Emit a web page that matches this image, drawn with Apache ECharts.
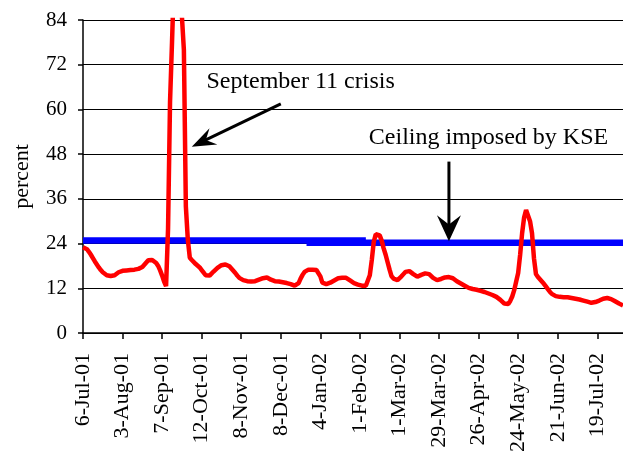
<!DOCTYPE html>
<html>
<head>
<meta charset="utf-8">
<script src="https://cdn.jsdelivr.net/npm/echarts@6/dist/echarts.min.js"></script>
<style>
  html, body { margin: 0; padding: 0; background: #fff; }
  #chart { width: 623px; height: 469px; }
</style>
</head>
<body>
<div id="chart"></div>
<script>
// tick labels, one every 20 trading days
var tickLabels = ['6-Jul-01', '3-Aug-01', '7-Sep-01', '12-Oct-01', '8-Nov-01', '8-Dec-01', '4-Jan-02',
  '1-Feb-02', '1-Mar-02', '29-Mar-02', '26-Apr-02', '24-May-02', '21-Jun-02', '19-Jul-02']
var tickStep = 20

// daily values (percent)
var percentValues = [
  23, 22.9, 22.5, 21.8, 21, 20.1, 19.2, 18.4, 17.6, 16.9,
  16.3, 15.8, 15.5, 15.3, 15.3, 15.3, 15.5, 15.9, 16.3, 16.6,
  16.7, 16.8, 16.8, 16.9, 16.9, 17, 17, 17.1, 17.2, 17.3,
  17.7, 18.3, 18.9, 19.5, 19.8, 19.6, 19.2, 18.8, 18, 16.8,
  15.4, 13.8, 12.6, 28, 62, 78, 95, 110, 108, 95,
  85, 76, 34, 25, 20.2, 19.6, 19.1, 18.5, 18.1, 17.6,
  16.9, 16.2, 15.5, 15.1, 15.4, 15.9, 16.5, 17, 17.5, 17.9,
  18.2, 18.3, 18.4, 18.3, 17.9, 17.3, 16.7, 16.1, 15.4, 14.8,
  14.4, 14.2, 14, 13.9, 13.8, 13.8, 13.8, 13.9, 14.1, 14.3,
  14.5, 14.7, 14.8, 14.9, 14.6, 14.3, 14, 13.9, 13.8, 13.8,
  13.7, 13.6, 13.5, 13.4, 13.3, 13.1, 12.9, 12.7, 12.6, 13.4,
  14.6, 15.6, 16.4, 16.9, 17, 17, 17, 16.9, 16.9, 16.6,
  15.2, 13.5, 13.2, 13.1, 13.3, 13.5, 13.8, 14.1, 14.4, 14.7,
  14.8, 14.8, 14.7, 14.8, 14.5, 14.1, 13.7, 13.4, 13.2, 13,
  12.8, 12.7, 12.6, 12.7, 12.9, 15.5, 19.6, 24.5, 26.5, 26.4,
  26.2, 24.8, 22.7, 21, 19, 17, 15.2, 14.6, 14.3, 14.2,
  14.6, 15.2, 15.8, 16.4, 16.9, 16.6, 16.2, 15.8, 15.4, 15.1,
  15.3, 15.6, 15.8, 16, 16.1, 15.8, 15.3, 14.8, 14.4, 14.2,
  14.3, 14.5, 14.7, 14.9, 15, 15, 14.9, 14.7, 14.3, 13.9,
  13.6, 13.3, 13, 12.7, 12.4, 12.1, 11.9, 11.8, 11.7, 11.6,
  11.4, 11.3, 11.1, 11, 10.8, 10.6, 10.4, 10.2, 10, 9.7,
  9.3, 8.9, 8.4, 7.9, 7.5, 7.8, 8.6, 9.8, 11.5, 13.8,
  16.1, 21, 26.8, 31, 33, 32.6, 30, 26.8, 20, 15.8,
  15, 14.4, 13.8, 13.2, 12.5, 11.8, 11.1, 10.5, 10.1, 9.9,
  9.7, 9.7, 9.7, 9.6, 9.6, 9.6, 9.5, 9.4, 9.4, 9.2,
  9.1, 9, 8.8, 8.7, 8.5, 8.4, 8.3, 8.1, 8.1, 8.3,
  8.5, 8.7, 9, 9.2, 9.3, 9.4, 9.3, 9.1, 8.8, 8.5,
  8.2, 7.9, 7.6, 7.4
]

// ceiling imposed by KSE (two overlapping segments)
var ceilingLevels = [24.8, 24.2]
var ceilingFrom = [0, 113]
var ceilingTo = [143, 273]

var font = "'Liberation Serif', 'Times New Roman', serif"

var categories = percentValues.map(function (v, i) { return String(i) })

function isTick (index) {
  return index % tickStep === 0 && index / tickStep < tickLabels.length
}

var ceilingSeries = ceilingLevels.map(function (level, k) {
  return {
    type: 'line',
    data: percentValues.map(function (v, i) {
      return (i >= ceilingFrom[k] && i <= ceilingTo[k]) ? level : null
    }),
    symbol: 'none',
    lineStyle: { color: '#0000ff', width: 6.5 },
    z: 3,
    animation: false
  }
})

var chart = echarts.init(document.getElementById('chart'))
chart.setOption({
  animation: false,
  grid: { left: 83, top: 20, right: 0, bottom: 136 },
  xAxis: {
    type: 'category',
    data: categories,
    boundaryGap: false,
    axisLine: { lineStyle: { color: '#000', width: 1.5 } },
    axisTick: { interval: isTick, length: 6, lineStyle: { color: '#000', width: 1.5 } },
    axisLabel: {
      interval: isTick,
      rotate: 90,
      margin: 20,
      color: '#000',
      fontFamily: font,
      fontSize: 22,
      formatter: function (value, index) {
        return tickLabels[index / tickStep]
      }
    },
    splitLine: { show: false }
  },
  yAxis: {
    type: 'value',
    min: 0,
    max: 84,
    interval: 12,
    name: 'percent',
    nameLocation: 'middle',
    nameGap: 50,
    nameTextStyle: { color: '#000', fontFamily: font, fontSize: 22 },
    axisLine: { show: true, lineStyle: { color: '#000', width: 1.5 } },
    axisTick: { show: true, length: 5, lineStyle: { color: '#000', width: 1.5 } },
    axisLabel: { color: '#000', fontFamily: font, fontSize: 21, margin: 16 },
    splitLine: { lineStyle: { color: '#000', width: 1.2 } }
  },
  series: ceilingSeries.concat([{
    type: 'line',
    data: percentValues,
    symbol: 'none',
    lineStyle: { color: '#ff0000', width: 4.5 },
    z: 4,
    animation: false
  }])
})

// annotations (in data coordinates: [category index, percent])
var notes = [
  { text: 'September 11 crisis', at: [109.6, 67.4], tail: [99.5, 61.5], tip: [54.8, 50], head: [24, 9] },
  { text: 'Ceiling imposed by KSE', at: [204.6, 52.3], tail: [184.7, 46], tip: [184.7, 24.6], head: [26, 12] }
]

function px (p) {
  return chart.convertToPixel({ xAxisIndex: 0, yAxisIndex: 0 }, p)
}

var graphics = []
notes.forEach(function (n) {
  var c = px(n.at)
  var a = px(n.tail)
  var b = px(n.tip)
  var dx = a[0] - b[0]
  var dy = a[1] - b[1]
  var len = Math.sqrt(dx * dx + dy * dy)
  var ux = dx / len
  var uy = dy / len
  var L = n.head[0]
  var W = n.head[1]
  graphics.push({
    type: 'text',
    x: c[0],
    y: c[1],
    style: { text: n.text, fill: '#000', font: '24px ' + font, textAlign: 'center', textVerticalAlign: 'middle' },
    z: 10
  })
  graphics.push({
    type: 'line',
    shape: { x1: a[0], y1: a[1], x2: b[0] + ux * L * 0.6, y2: b[1] + uy * L * 0.6 },
    style: { stroke: '#000', lineWidth: 3 },
    z: 10
  })
  graphics.push({
    type: 'polygon',
    shape: {
      points: [
        [b[0], b[1]],
        [b[0] + ux * L - uy * W, b[1] + uy * L + ux * W],
        [b[0] + ux * L * 0.65, b[1] + uy * L * 0.65],
        [b[0] + ux * L + uy * W, b[1] + uy * L - ux * W]
      ]
    },
    style: { fill: '#000' },
    z: 10
  })
})
chart.setOption({ graphic: graphics })
</script>
</body>
</html>
